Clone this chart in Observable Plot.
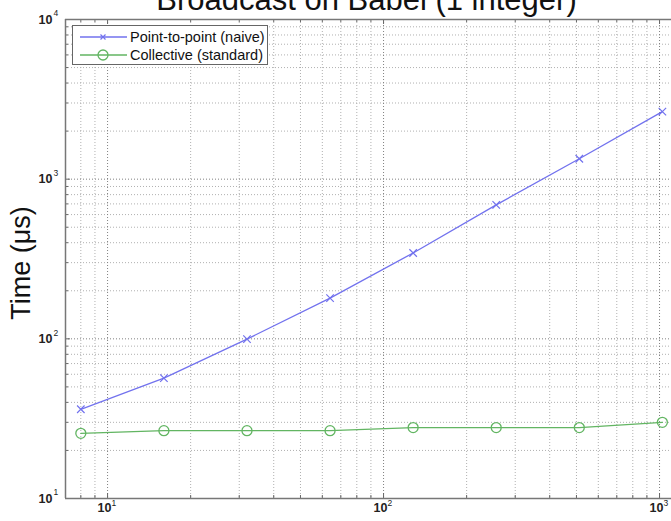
<!DOCTYPE html>
<html><head><meta charset="utf-8">
<script src="https://cdn.jsdelivr.net/npm/d3@7"></script>
<script src="https://cdn.jsdelivr.net/npm/@observablehq/plot@0.6"></script>
<style>
html,body{margin:0;padding:0;background:#fff;overflow:hidden;}
#wrap{position:relative;width:671px;height:521px;overflow:hidden;}
#wrap svg{overflow:hidden;}
.legend{position:absolute;left:72px;top:25px;width:194px;height:38px;border:1.5px solid #666;background:#fff;font:14.5px "Liberation Sans",Arial,sans-serif;color:#111;}
.legend .row{position:absolute;left:0;height:18px;display:flex;align-items:center;white-space:nowrap;}
.legend .row svg{display:block;margin-left:7px;margin-right:3px;}
</style></head><body><div id="wrap"></div>
<script>
// ---- data ----
const messageSizes = [8, 16, 32, 64, 128, 256, 512, 1024];
const pointToPoint = [36.2, 56.7, 99.6, 180, 345, 690, 1343, 2650];
const collective   = [25.6, 26.6, 26.6, 26.6, 27.8, 27.8, 27.8, 30.0];
const seriesNames  = ["Point-to-point (naive)", "Collective (standard)"];
const seriesColors = ["#7272ee", "#62b562"];
const seriesSymbols = ["times", "circle"];
const xTickValues = [10, 100, 1000];
const xTickExps   = ["1", "2", "3"];
const yTickValues = [10, 100, 1000, 10000];
const yTickExps   = ["1", "2", "3", "4"];
const titleText = "Broadcast on Babel (1 integer)";
const yLabelText = "Time (\u03bcs)";

// ---- layout ----
const W = 671, H = 521, mL = 65, mR = 0, mT = 19, mB = 23;
const plotW = W - mL - mR, plotH = H - mT - mB;
const xDomain = [7.04, 1105];
const yDomain = [10, 10000];
const font = '"Liberation Sans", Arial, sans-serif';

const rows = [];
messageSizes.forEach((s, i) => {
  rows.push({size: s, time: pointToPoint[i], series: seriesNames[0]});
  rows.push({size: s, time: collective[i], series: seriesNames[1]});
});

const xGrid = d3.scaleLog().domain(xDomain).ticks();
const yGrid = d3.scaleLog().domain(yDomain).ticks();
const isMajor = v => Math.abs(Math.log10(v) - Math.round(Math.log10(v))) < 1e-9;
const xMinor = xGrid.filter(v => !isMajor(v)), xMajor = xGrid.filter(isMajor);
const yMinor = yGrid.filter(v => !isMajor(v)), yMajor = yGrid.filter(isMajor);

const gridStyle = {strokeDasharray: "1,2", strokeWidth: 1};
const tickCol = "#666";

const chart = Plot.plot({
  width: W, height: H,
  marginLeft: mL, marginRight: mR, marginTop: mT, marginBottom: mB,
  style: {fontFamily: font, background: "#fff"},
  x: {type: "log", domain: xDomain, axis: null},
  y: {type: "log", domain: yDomain, axis: null},
  marks: [
    // grid
    Plot.ruleX(xMinor, {...gridStyle, stroke: "#b0b0b0"}),
    Plot.ruleY(yMinor, {...gridStyle, stroke: "#b0b0b0"}),
    Plot.ruleX(xMajor, {...gridStyle, stroke: "#808080"}),
    Plot.ruleY(yMajor, {...gridStyle, stroke: "#808080"}),
    // inward ticks
    Plot.ruleX(xMinor, {insetTop: plotH - 3, stroke: tickCol}),
    Plot.ruleX(xMajor, {insetTop: plotH - 5, stroke: tickCol}),
    Plot.ruleX(xMinor, {insetBottom: plotH - 3, stroke: tickCol}),
    Plot.ruleX(xMajor, {insetBottom: plotH - 5, stroke: tickCol}),
    Plot.ruleY(yMinor, {insetRight: plotW - 3, stroke: tickCol}),
    Plot.ruleY(yMajor, {insetRight: plotW - 5, stroke: tickCol}),
    // axis box
    Plot.ruleY([yDomain[0]], {stroke: "#777", strokeWidth: 1.5}),
    Plot.ruleY([yDomain[1]], {stroke: "#777", strokeWidth: 1.5}),
    Plot.ruleX([xDomain[0]], {stroke: "#777", strokeWidth: 1.5}),
    // data
    Plot.line(rows, {x: "size", y: "time", z: "series", stroke: d => seriesColors[seriesNames.indexOf(d.series)], strokeWidth: 1.3}),
    Plot.dot(rows.filter(d => d.series === seriesNames[0]), {x: "size", y: "time", symbol: "times", r: 3.5, stroke: seriesColors[0], strokeWidth: 1.2}),
    Plot.dot(rows.filter(d => d.series === seriesNames[1]), {x: "size", y: "time", symbol: "circle", r: 5, stroke: seriesColors[1], strokeWidth: 1.3, fill: "none"}),
    // y tick labels
    Plot.text(yTickValues, {y: d => d, frameAnchor: "left", dx: -13, textAnchor: "end", text: () => "10", fontSize: 12.5, fontWeight: "bold", fill: "#222"}),
    Plot.text(yTickValues, {y: d => d, frameAnchor: "left", dx: -12, dy: -6, textAnchor: "start", text: (d, i) => yTickExps[i], fontSize: 8.5, fill: "#222"}),
    // x tick labels
    Plot.text(xTickValues, {x: d => d, frameAnchor: "bottom", dx: -3, dy: 13, textAnchor: "middle", text: () => "10", fontSize: 12.5, fontWeight: "bold", fill: "#222"}),
    Plot.text(xTickValues, {x: d => d, frameAnchor: "bottom", dx: 4, dy: 7, textAnchor: "start", text: (d, i) => xTickExps[i], fontSize: 8.5, fill: "#222"}),
    // title (cut off at the top edge as in the reference)
    Plot.text([titleText], {frameAnchor: "top", dx: -2, dy: -10, lineAnchor: "bottom", textAnchor: "middle", text: d => d, fontSize: 31, fill: "#111"}),
    // y label
    Plot.text([yLabelText], {frameAnchor: "left", dx: -44, dy: 4, rotate: -90, textAnchor: "middle", text: d => d, fontSize: 27, fill: "#111"})
  ]
});
const wrap = document.getElementById("wrap");
wrap.appendChild(chart);

// legend
const lg = document.createElement("div");
lg.className = "legend";
seriesNames.forEach((name, i) => {
  const row = document.createElement("div");
  row.className = "row";
  row.style.top = (2 + i * 18) + "px";
  const sym = seriesSymbols[i] === "circle"
    ? `<circle cx="23" cy="9" r="5" fill="none" stroke="${seriesColors[i]}" stroke-width="1.3"/>`
    : `<path d="M20.5,6.5L25.5,11.5M25.5,6.5L20.5,11.5" stroke="${seriesColors[i]}" stroke-width="1.2"/>`;
  row.innerHTML = `<svg width="47" height="18"><line x1="0" x2="47" y1="9" y2="9" stroke="${seriesColors[i]}" stroke-width="1.3"/>${sym}</svg><span>${name}</span>`;
  lg.appendChild(row);
});
wrap.appendChild(lg);
</script></body></html>
